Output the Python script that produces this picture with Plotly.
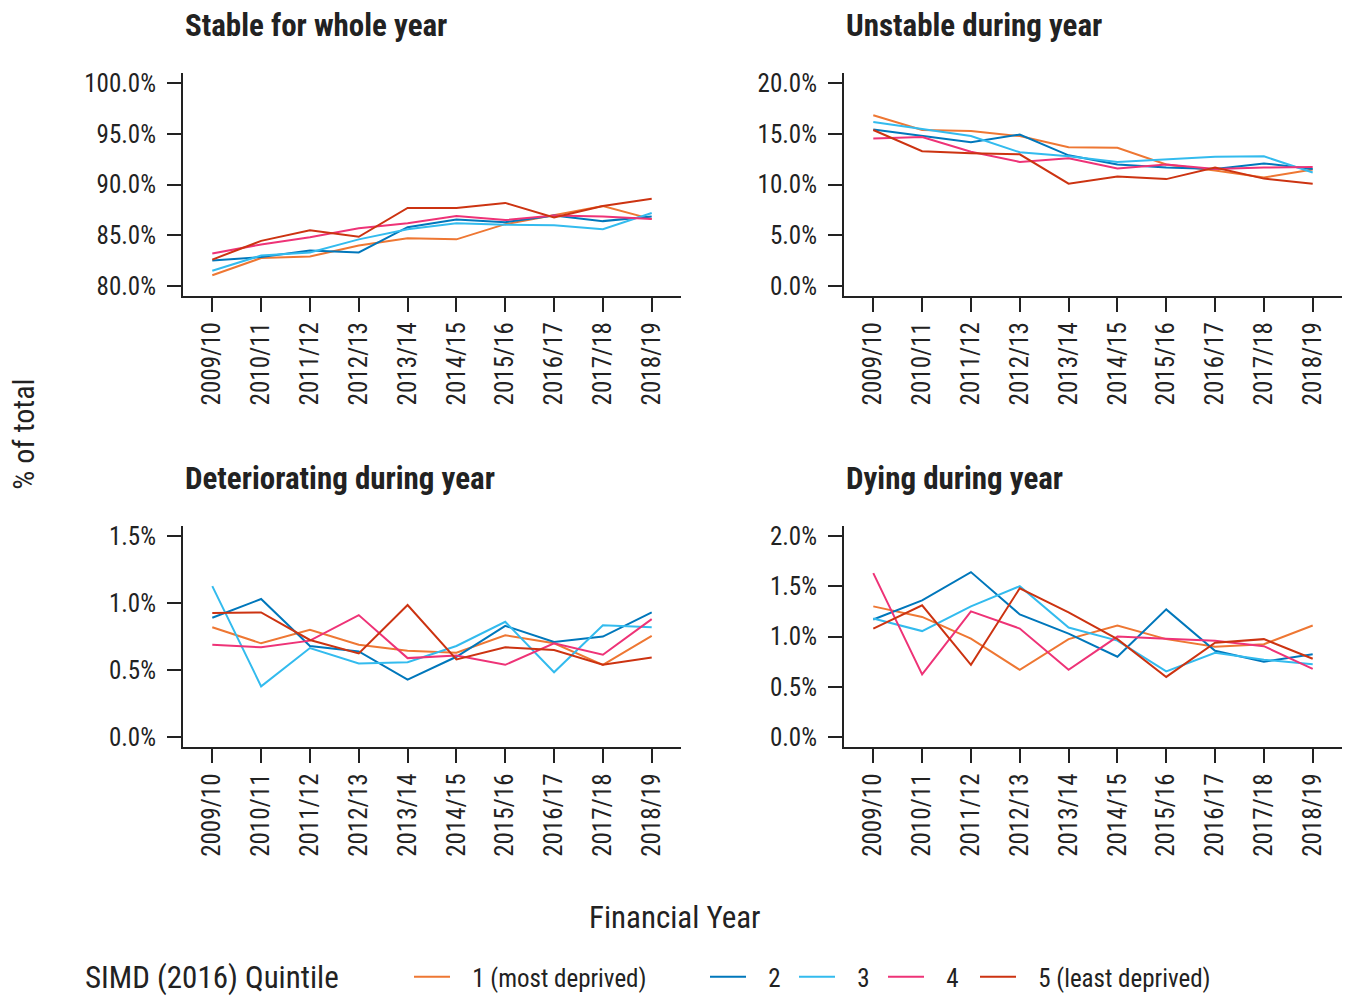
import plotly.graph_objects as go

years = ["2009/10", "2010/11", "2011/12", "2012/13", "2013/14",
         "2014/15", "2015/16", "2016/17", "2017/18", "2018/19"]

quintiles = ["1 (most deprived)", "2", "3", "4", "5 (least deprived)"]
colours = ["#EE7733", "#0077BB", "#33BBEE", "#EE3377", "#CC3311"]

panel_titles = ["Stable for whole year", "Unstable during year",
                "Deteriorating during year", "Dying during year"]

# values in % of total, per quintile (1..5)
stable = [
    [81.05, 82.75, 82.9, 84.0, 84.7, 84.6, 86.1, 87.0, 87.9, 86.6],
    [82.5, 82.85, 83.5, 83.3, 85.8, 86.55, 86.3, 86.95, 86.4, 86.85],
    [81.5, 83.0, 83.3, 84.6, 85.6, 86.2, 86.05, 86.0, 85.6, 87.2],
    [83.2, 84.1, 84.8, 85.7, 86.2, 86.9, 86.5, 86.95, 86.85, 86.6],
    [82.6, 84.45, 85.5, 84.85, 87.7, 87.7, 88.2, 86.75, 87.9, 88.6],
]
unstable = [
    [16.85, 15.4, 15.3, 14.8, 13.7, 13.65, 12.0, 11.4, 10.7, 11.5],
    [15.45, 14.8, 14.2, 14.95, 12.9, 12.0, 11.7, 11.55, 12.1, 11.55],
    [16.2, 15.5, 14.8, 13.2, 12.8, 12.25, 12.5, 12.75, 12.8, 11.2],
    [14.55, 14.7, 13.25, 12.25, 12.6, 11.6, 12.0, 11.55, 11.7, 11.75],
    [15.4, 13.3, 13.1, 13.0, 10.1, 10.8, 10.55, 11.7, 10.6, 10.1],
]
deteriorating = [
    [0.82, 0.70, 0.80, 0.69, 0.645, 0.63, 0.76, 0.70, 0.54, 0.755],
    [0.89, 1.03, 0.68, 0.64, 0.43, 0.60, 0.83, 0.71, 0.75, 0.93],
    [1.126, 0.38, 0.665, 0.55, 0.56, 0.68, 0.86, 0.485, 0.835, 0.82],
    [0.69, 0.67, 0.72, 0.91, 0.59, 0.61, 0.54, 0.70, 0.615, 0.88],
    [0.925, 0.93, 0.725, 0.625, 0.985, 0.58, 0.67, 0.65, 0.54, 0.595],
]
dying = [
    [1.30, 1.195, 0.98, 0.67, 0.975, 1.11, 0.975, 0.90, 0.925, 1.11],
    [1.17, 1.36, 1.64, 1.22, 1.03, 0.80, 1.27, 0.86, 0.75, 0.825],
    [1.18, 1.055, 1.30, 1.50, 1.09, 0.96, 0.655, 0.84, 0.77, 0.725],
    [1.63, 0.625, 1.25, 1.08, 0.67, 1.00, 0.98, 0.96, 0.905, 0.68],
    [1.08, 1.31, 0.72, 1.48, 1.24, 0.975, 0.60, 0.94, 0.975, 0.78],
]

panel_data = [stable, unstable, deteriorating, dying]
y_ranges = [[79, 101], [-1, 21], [-0.075, 1.575], [-0.1, 2.1]]
y_ticks = [[80, 85, 90, 95, 100], [0, 5, 10, 15, 20],
           [0, 0.5, 1.0, 1.5], [0, 0.5, 1.0, 1.5, 2.0]]
y_ticklabels = [["80.0%", "85.0%", "90.0%", "95.0%", "100.0%"],
                ["0.0%", "5.0%", "10.0%", "15.0%", "20.0%"],
                ["0.0%", "0.5%", "1.0%", "1.5%"],
                ["0.0%", "0.5%", "1.0%", "1.5%", "2.0%"]]

W, H = 1350, 1000
x_doms = [[183 / W, 681 / W], [844 / W, 1342 / W]]
y_doms = [[1 - 295 / H, 1 - 70 / H], [1 - 751 / H, 1 - 527 / H]]

FONT = "Roboto Condensed, Liberation Sans Narrow, Roboto, sans-serif"
TXT = "#222222"
PAD = "\u00a0\u00a0\u00a0"  # gap between legend key and its label

# which legend box each quintile's key sits in
legend_of = ["legend", "legend2", "legend2", "legend2", "legend3"]

fig = go.Figure()
layout = dict(
    width=W, height=H,
    margin=dict(l=0, r=0, t=0, b=0),
    plot_bgcolor="white", paper_bgcolor="white",
    font=dict(family=FONT, color=TXT, size=25),
    showlegend=True,
)

annotations = []
for p in range(4):
    r, c = divmod(p, 2)
    ax = "" if p == 0 else str(p + 1)
    layout["xaxis" + ax] = dict(
        domain=x_doms[c], anchor="y" + ax,
        type="category", categoryorder="array", categoryarray=years,
        range=[-0.6, 9.6], tickangle=-90,
        showline=True, linecolor=TXT, linewidth=2,
        ticks="outside", ticklen=14, tickwidth=2, tickcolor=TXT,
        showgrid=False, zeroline=False,
        tickfont=dict(size=25, color=TXT, family=FONT),
    )
    layout["yaxis" + ax] = dict(
        domain=y_doms[r], anchor="x" + ax,
        range=y_ranges[p], tickvals=y_ticks[p], ticktext=y_ticklabels[p],
        showline=True, linecolor=TXT, linewidth=2,
        ticks="outside", ticklen=14, tickwidth=2, tickcolor=TXT,
        ticklabelstandoff=6,
        showgrid=False, zeroline=False,
        tickfont=dict(size=25, color=TXT, family=FONT),
    )
    for q in range(5):
        fig.add_trace(go.Scatter(
            x=years, y=panel_data[p][q], mode="lines",
            name=PAD + quintiles[q], legendgroup=quintiles[q],
            legend=legend_of[q],
            showlegend=(p == 0),
            line=dict(color=colours[q], width=2),
            xaxis="x" + ax, yaxis="y" + ax,
        ))
    annotations.append(dict(
        text="<b>" + panel_titles[p] + "</b>",
        xref="paper", yref="paper",
        x=x_doms[c][0], y=(1 - 22 / H) if r == 0 else (1 - 479 / H),
        xanchor="left", yanchor="middle", showarrow=False,
        font=dict(size=31, color=TXT, family=FONT),
    ))

annotations.append(dict(
    text="% of total", xref="paper", yref="paper",
    x=24 / W, y=1 - 435 / H, textangle=-90,
    xanchor="center", yanchor="middle", showarrow=False,
    font=dict(size=30, color=TXT, family=FONT),
))
annotations.append(dict(
    text="Financial Year", xref="paper", yref="paper",
    x=675 / W, y=1 - 923 / H,
    xanchor="center", yanchor="middle", showarrow=False,
    font=dict(size=31, color=TXT, family=FONT),
))
annotations.append(dict(
    text="SIMD (2016) Quintile", xref="paper", yref="paper",
    x=83 / W, y=1 - 983 / H,
    xanchor="left", yanchor="middle", showarrow=False,
    font=dict(size=31, color=TXT, family=FONT),
))

layout["annotations"] = annotations
legend_common = dict(
    orientation="h", y=1 - 983 / H,
    xanchor="left", yanchor="middle",
    font=dict(size=25, color=TXT, family=FONT),
    itemwidth=36,
)
layout["legend"] = dict(legend_common, x=409 / W)
layout["legend2"] = dict(legend_common, x=705 / W, entrywidth=38)
layout["legend3"] = dict(legend_common, x=975 / W)

fig.update_layout(**layout)
fig.write_html("out.html", config={"displayModeBar": False},
               post_script="document.body.style.margin='0';")
